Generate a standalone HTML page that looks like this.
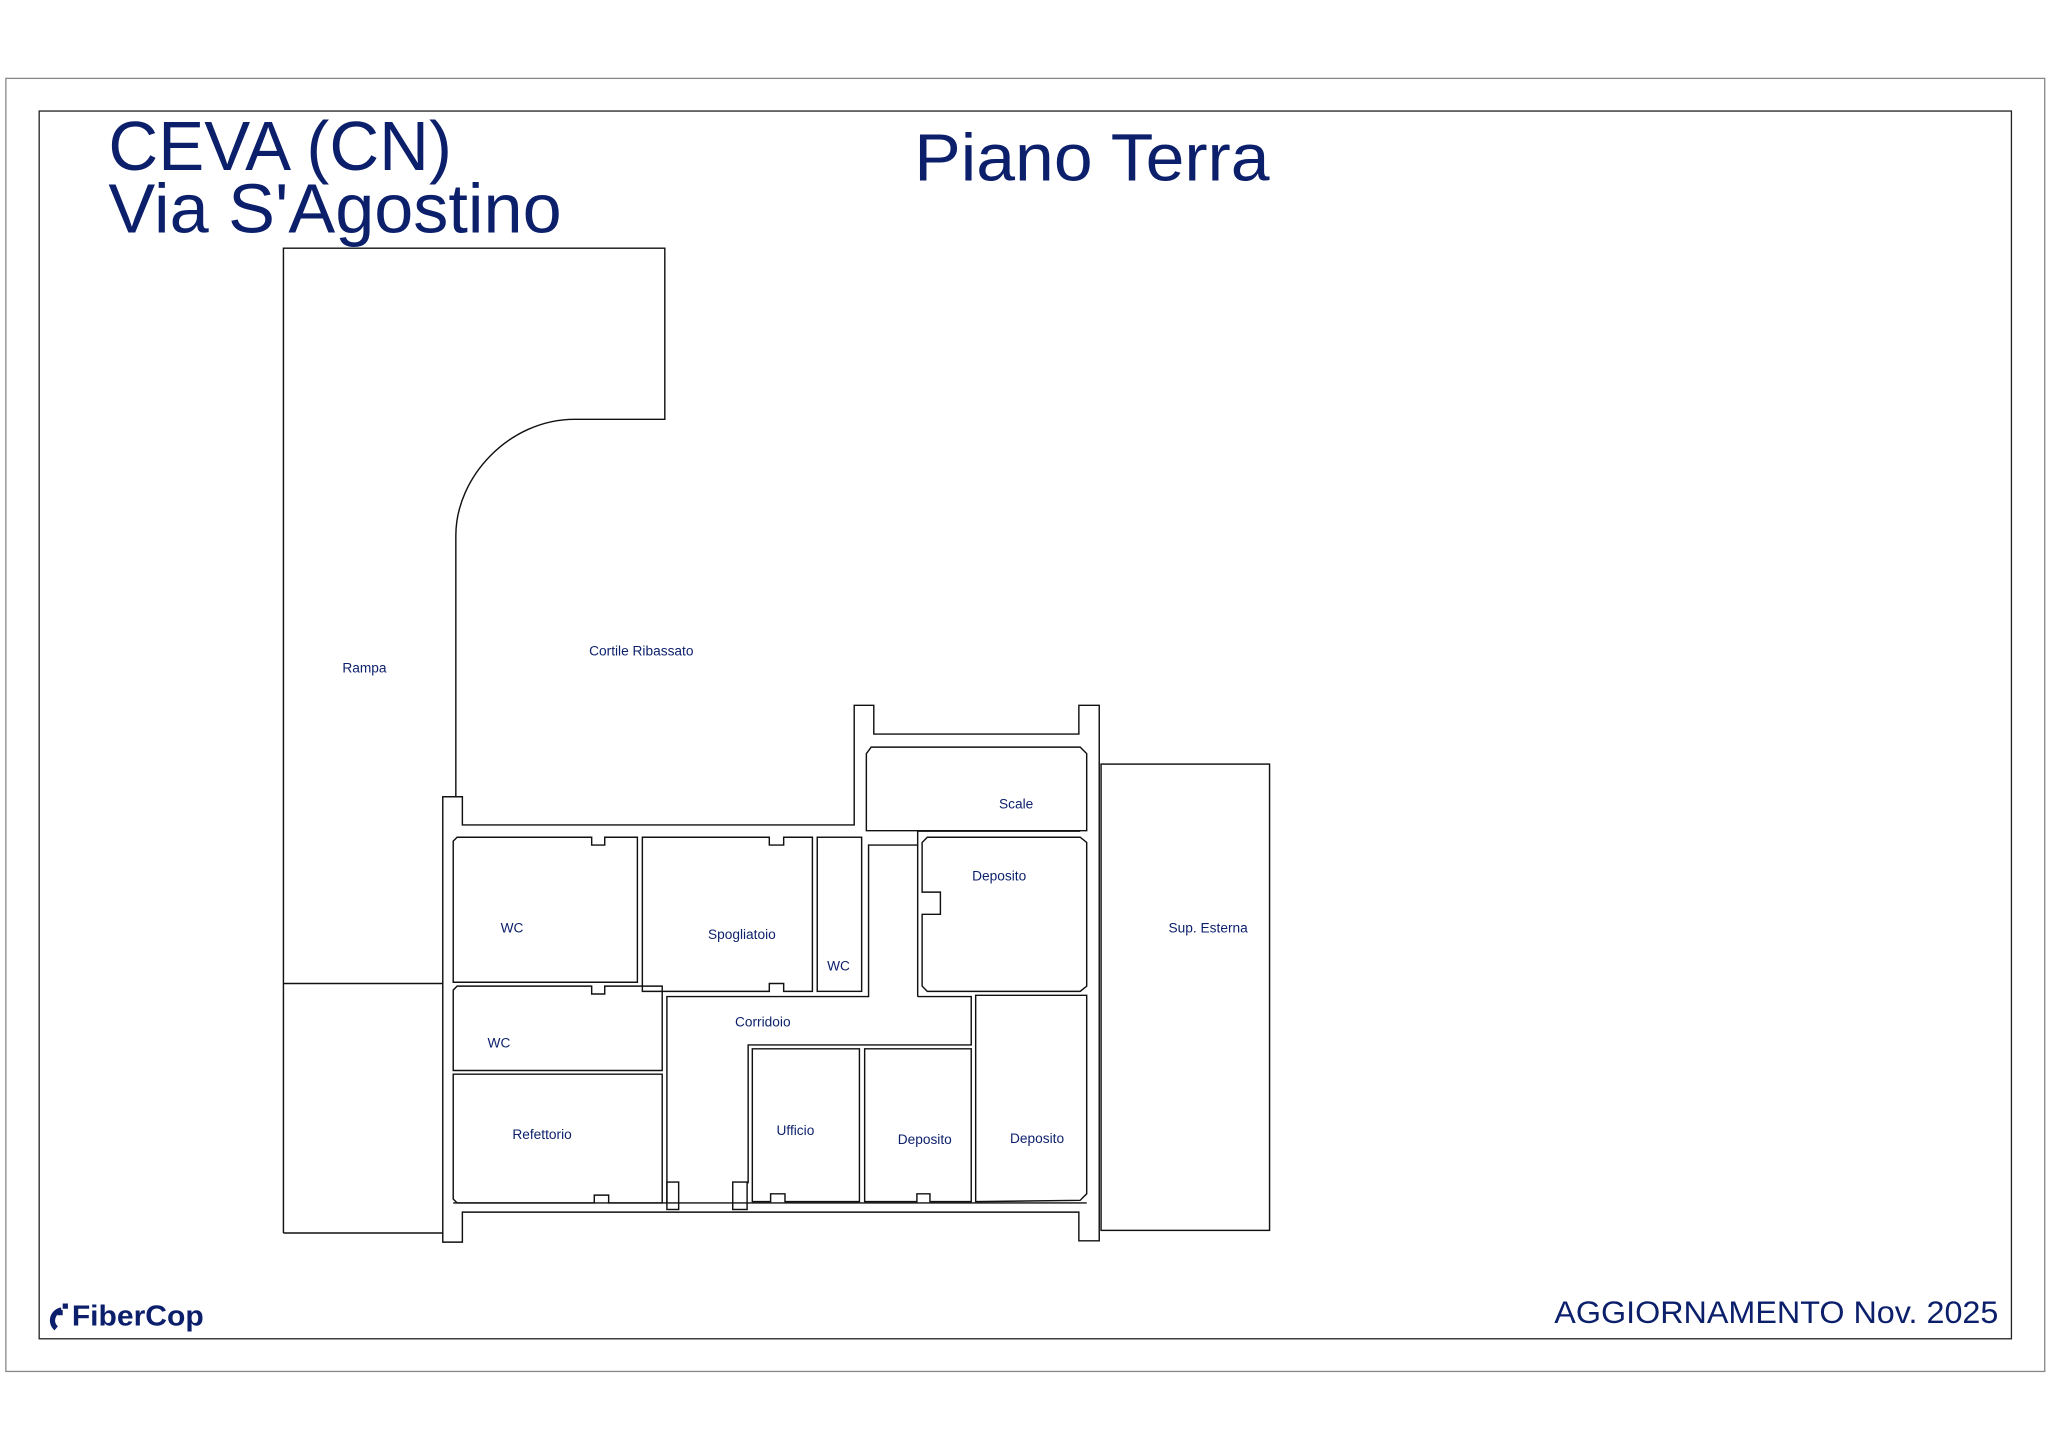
<!DOCTYPE html>
<html><head><meta charset="utf-8"><style>
html,body{margin:0;padding:0;background:#fff}
svg{display:block}
text{font-family:"Liberation Sans",sans-serif;fill:#0b1f6b}
.l{font-size:10.5px;text-anchor:middle}
</style></head><body>
<svg width="2048" height="1448" viewBox="0 0 1568 1108.6" xmlns="http://www.w3.org/2000/svg">
<rect x="4.5" y="60" width="1561" height="990" fill="none" stroke="#888" stroke-width="1"/>
<rect x="30" y="85" width="1510" height="940" fill="none" stroke="#222" stroke-width="1"/>
<text x="83" y="130" font-size="53" textLength="263" lengthAdjust="spacingAndGlyphs">CEVA (CN)</text>
<text x="83" y="178" font-size="53" textLength="347" lengthAdjust="spacingAndGlyphs">Via S'Agostino</text>
<text x="700" y="138" font-size="51" textLength="272" lengthAdjust="spacingAndGlyphs">Piano Terra</text>
<text x="1190" y="1013" font-size="24" textLength="340" lengthAdjust="spacingAndGlyphs">AGGIORNAMENTO Nov. 2025</text>
<text x="55" y="1015" font-size="22" font-weight="bold" textLength="101" lengthAdjust="spacingAndGlyphs">FiberCop</text>
<path d="M48 998 h4 v4 h-4z M44 1003 h4 v4 h-4z" fill="#0b1f6b"/>
<path d="M43 1017 a8 8 0 0 1 4 -14" fill="none" stroke="#0b1f6b" stroke-width="4"/>
<g fill="none" stroke="#111" stroke-width="1.1">
<path d="M217 944 V190 H509 V321 H440 C390 321 349 365 349 410 V610"/>
<path d="M217 753 H339 M217 944 H339"/>
<path d="M339 951 V610 H354 V631.6 H654 V540 H669 V562 H826 V540 H841.6 V950 H826 V928 H354 V951 Z"/>
<rect x="843" y="585" width="129" height="357"/>
<path d="M347 644 L350 641 H453 V647 H463 V641 H488 V752 L347 752 Z"/>
<path d="M491.8 641 H589 V647 H600 V641 H622 V759 H600 V753 H589 V759 H491.8 Z"/>
<rect x="625.7" y="641" width="34" height="118"/>
<path d="M510.6 921 V763 H665 V647 H702.6"/>
<path d="M702.6 763 V636.3 H827 M702.6 763 H743.6 V800 H572.8 V906"/>
<path d="M347 758 L350 755 H453 V761 H463 V755 H507 V819.6 H347 Z"/>
<path d="M347 822.4 H507 V921 H466 V915 H455 V921 H350 L347 918 Z"/>
<path d="M576 803 H658 V920 H601 V914 H590 V920 H576 Z"/>
<path d="M662 803 H743.6 V920 H712 V914 H702 V920 H662 Z"/>
<path d="M747 762 H832 V914 L827 919 L747 920 Z"/>
<path d="M706 645 L710 641 H827 L832 645 V755 L827 759 H710 L706 755 V700 H720 V683 H706 Z"/>
<path d="M663.3 577 L667 572 H827 L832 577 V636 H663.3 Z"/>
<path d="M347 921 H832"/>
<rect x="510.6" y="905" width="9" height="21"/>
<rect x="561" y="905" width="11" height="21"/>
</g>
<text class="l" x="279" y="515">Rampa</text>
<text class="l" x="491" y="502">Cortile Ribassato</text>
<text class="l" x="778" y="619">Scale</text>
<text class="l" x="765" y="674">Deposito</text>
<text class="l" x="392" y="714">WC</text>
<text class="l" x="568" y="719">Spogliatoio</text>
<text class="l" x="642" y="743">WC</text>
<text class="l" x="925" y="714">Sup. Esterna</text>
<text class="l" x="382" y="802">WC</text>
<text class="l" x="584" y="786">Corridoio</text>
<text class="l" x="609" y="869">Ufficio</text>
<text class="l" x="415" y="872">Refettorio</text>
<text class="l" x="708" y="876">Deposito</text>
<text class="l" x="794" y="875">Deposito</text>
</svg>
</body></html>
